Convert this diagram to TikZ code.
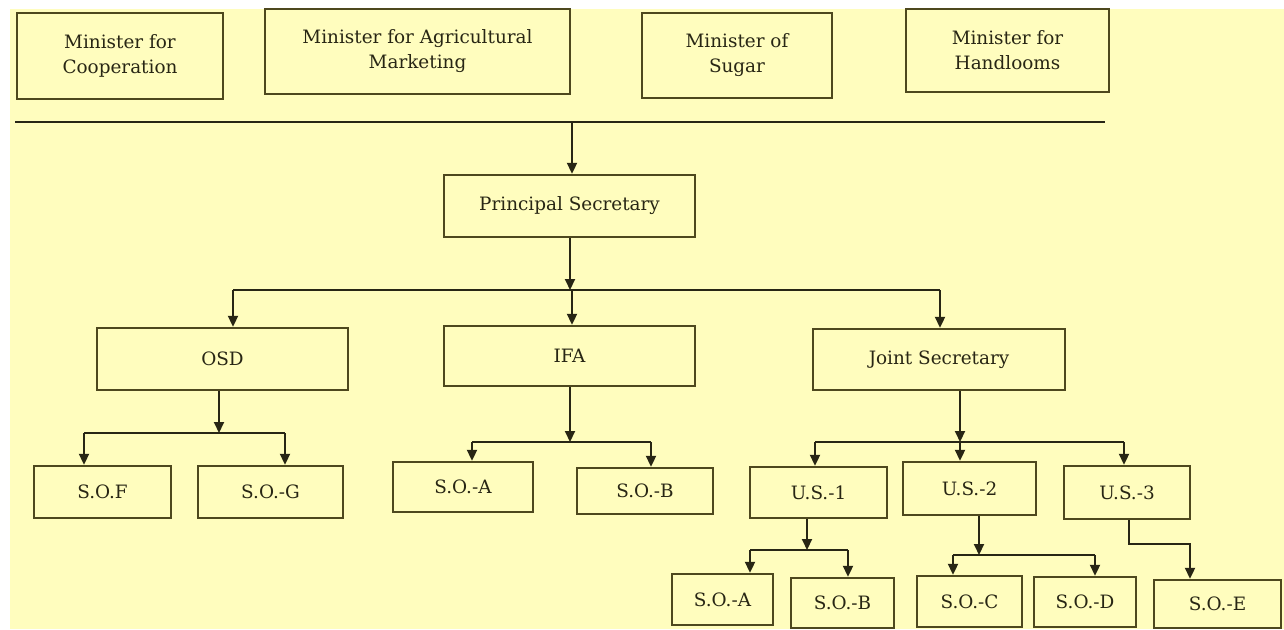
\documentclass[tikz,border=0pt]{standalone}
\usepackage{fontspec}
\setmainfont{DejaVu Serif}
\usetikzlibrary{arrows.meta}
\definecolor{paper}{RGB}{255,253,190}
\definecolor{ink}{RGB}{40,38,20}
\definecolor{rim}{RGB}{78,72,30}

\begin{document}
\begin{tikzpicture}[x=1pt,y=-1pt,
  box/.style={draw=rim,line width=2.4pt,fill=paper,align=center,text=ink,
    inner sep=0pt,font=\fontsize{18.4}{25}\selectfont},
  wire/.style={draw=ink,line width=2pt},
  arr/.style={wire,-{Triangle[length=11pt,width=10pt]}}]
\useasboundingbox (0,0) rectangle (1284,629);
\fill[white] (0,0) rectangle (1284,629);
\fill[paper] (10,9) rectangle (1284,629);

\node[box,minimum width=206,minimum height=86] (coop) at (120,56) {Minister for\\Cooperation};
\node[box,minimum width=305,minimum height=85] (agri) at (417.5,51.5) {Minister for Agricultural\\Marketing};
\node[box,minimum width=190,minimum height=85] (sugar) at (737,55.5) {Minister of\\Sugar};
\node[box,minimum width=203,minimum height=83] (hand) at (1007.5,50.5) {Minister for\\Handlooms};

\node[box,minimum width=251,minimum height=62] (ps) at (569.5,206) {Principal Secretary};

\node[box,minimum width=251,minimum height=62] (osd) at (222.5,359) {OSD};
\node[box,minimum width=251,minimum height=60] (ifa) at (569.5,356) {IFA};
\node[box,minimum width=252,minimum height=61] (js) at (939,359.5) {Joint Secretary};

\node[box,minimum width=137,minimum height=52] (sof) at (102.5,492) {S.O.F};
\node[box,minimum width=145,minimum height=52] (sog) at (270.5,492) {S.O.-G};
\node[box,minimum width=140,minimum height=50] (soa) at (463,487) {S.O.-A};
\node[box,minimum width=136,minimum height=46] (sob) at (645,491) {S.O.-B};

\node[box,minimum width=137,minimum height=51] (usa) at (818.5,492.5) {U.S.-1};
\node[box,minimum width=133,minimum height=53] (usb) at (969.5,488.5) {U.S.-2};
\node[box,minimum width=126,minimum height=53] (usc) at (1127,492.5) {U.S.-3};

\node[box,minimum width=101,minimum height=51] (soaa) at (722.5,599.5) {S.O.-A};
\node[box,minimum width=103,minimum height=50] (sobb) at (842.5,603) {S.O.-B};
\node[box,minimum width=105,minimum height=51] (soc) at (969.5,601.5) {S.O.-C};
\node[box,minimum width=102,minimum height=50] (sod) at (1085,602) {S.O.-D};
\node[box,minimum width=127,minimum height=48] (soe) at (1217.5,604) {S.O.-E};

\coordinate (lineL) at (15,122);
\coordinate (lineR) at (1105,122);
\coordinate (lineM) at (572,122);
\draw[wire] (lineL) -- (lineR);
\draw[arr] (lineM) -- (lineM |- ps.north);

\coordinate (busA) at (570,290);
\draw[arr] (ps.south -| busA) -- (busA);
\draw[wire] (233,290) -- (940,290);
\foreach \n/\x in {osd/233,ifa/572,js/940}
  \draw[arr] (\x,290) -- (\x,0 |- \n.north);

\coordinate (busB) at (219,433);
\draw[arr] (osd.south -| busB) -- (busB);
\draw[wire] (84,433) -- (285,433);
\foreach \n/\x in {sof/84,sog/285}
  \draw[arr] (\x,433) -- (\x,0 |- \n.north);

\coordinate (busC) at (570,442);
\draw[arr] (ifa.south -| busC) -- (busC);
\draw[wire] (472,442) -- (651,442);
\foreach \n/\x in {soa/472,sob/651}
  \draw[arr] (\x,442) -- (\x,0 |- \n.north);

\coordinate (busD) at (960,442);
\draw[arr] (js.south -| busD) -- (busD);
\draw[wire] (815,442) -- (1124,442);
\foreach \n/\x in {usa/815,usb/960,usc/1124}
  \draw[arr] (\x,442) -- (\x,0 |- \n.north);

\coordinate (busE) at (807,550);
\draw[arr] (usa.south -| busE) -- (busE);
\draw[wire] (750,550) -- (848,550);
\foreach \n/\x in {soaa/750,sobb/848}
  \draw[arr] (\x,550) -- (\x,0 |- \n.north);

\coordinate (busF) at (979,555);
\draw[arr] (usb.south -| busF) -- (busF);
\draw[wire] (953,555) -- (1095,555);
\foreach \n/\x in {soc/953,sod/1095}
  \draw[arr] (\x,555) -- (\x,0 |- \n.north);

\coordinate (bendG) at (1129,544);
\draw[arr] (usc.south -| bendG) -- (bendG) -- (1190,544) -- (1190,0 |- soe.north);
\end{tikzpicture}
\end{document}
